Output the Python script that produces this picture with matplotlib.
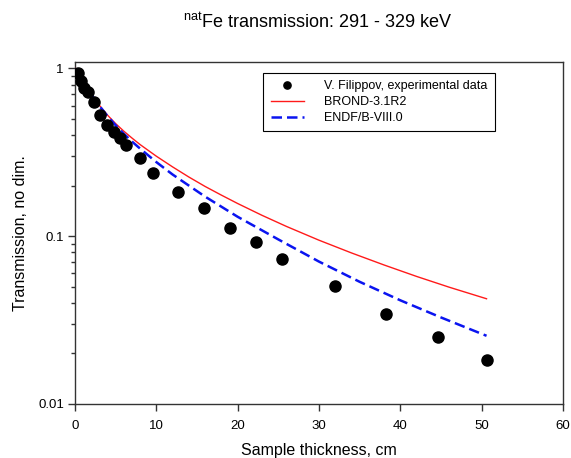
import matplotlib

matplotlib.use("Agg")

import matplotlib.pyplot as plt
from matplotlib.ticker import FixedLocator, LogLocator, NullFormatter

# --- data ------------------------------------------------------------------

# V. Filippov, experimental points (thickness in cm, transmission)
exp_x = [0.41, 0.70, 1.14, 1.56, 2.37, 3.07, 3.90, 4.76, 5.57, 6.31, 7.99,
         9.53, 12.70, 15.86, 19.06, 22.22, 25.49, 31.93, 38.20, 44.63, 50.62]
exp_t = [0.940, 0.842, 0.768, 0.721, 0.628, 0.527, 0.458, 0.417, 0.383,
         0.352, 0.291, 0.237, 0.1835, 0.1466, 0.1124, 0.0918, 0.0727,
         0.0503, 0.0343, 0.0252, 0.0182]

# BROND-3.1R2 calculation
brond_x = [0, 1, 2, 3, 4, 5, 6, 7, 8, 10, 12, 14, 16, 18, 20, 23, 26, 30,
           34, 38, 42, 46, 50.6]
brond_t = [1.0, 0.832, 0.701, 0.603, 0.527, 0.469, 0.423, 0.385, 0.352,
           0.300, 0.259, 0.2254, 0.198, 0.1758, 0.1567, 0.1332, 0.1144,
           0.0947, 0.0795, 0.0674, 0.0576, 0.0497, 0.0424]

# ENDF/B-VIII.0 calculation
endf_x = [0, 1, 2, 3, 4, 5, 6, 7, 8, 10, 12, 14, 16, 18, 20, 22.5, 25,
          27.5, 30, 35, 40, 45, 50.6]
endf_t = [1.0, 0.832, 0.700, 0.598, 0.520, 0.458, 0.408, 0.367, 0.333,
          0.2767, 0.2333, 0.2004, 0.1722, 0.150, 0.1306, 0.1118, 0.0957,
          0.0822, 0.0706, 0.0535, 0.0415, 0.0328, 0.0255]

x_ticks = [0, 10, 20, 30, 40, 50, 60]
y_ticks = [0.01, 0.1, 1]
y_tick_labels = ["0.01", "0.1", "1"]

# --- style -----------------------------------------------------------------

plt.rcParams.update({
    "font.family": ["Liberation Sans", "DejaVu Sans"],
    "mathtext.fontset": "custom",
    "mathtext.rm": "Liberation Sans",
    "mathtext.it": "Liberation Sans:italic",
    "axes.linewidth": 1.0,
    "axes.edgecolor": "#333333",
})

fig = plt.figure(figsize=(5.71, 4.58), dpi=100)
ax = fig.add_axes([75 / 571, 1 - 404 / 458, 488 / 571, 342 / 458])

ax.plot(exp_x, exp_t, "o", color="black", ms=8, mec="black",
        label="V. Filippov, experimental data", zorder=4)
ax.plot(brond_x, brond_t, "-", color="#ff1a1a", lw=1.0,
        label="BROND-3.1R2", zorder=3)
ax.plot(endf_x, endf_t, "--", color="#0a14f0", lw=1.8, dashes=(4.2, 2.0),
        label="ENDF/B-VIII.0", zorder=3)

ax.set_yscale("log")
ax.set_xlim(0, 60)
ax.set_ylim(0.01, 1.093)

ax.xaxis.set_major_locator(FixedLocator(x_ticks))
ax.yaxis.set_major_locator(FixedLocator(y_ticks))
ax.set_yticklabels(y_tick_labels)
ax.yaxis.set_minor_locator(LogLocator(base=10, subs=range(2, 10)))
ax.yaxis.set_minor_formatter(NullFormatter())
ax.tick_params(axis="both", which="major", direction="out", length=5,
               width=1, labelsize=9.5, color="#333333")
ax.tick_params(axis="x", which="major", pad=6.5)
ax.tick_params(axis="y", which="major", pad=3)
ax.tick_params(axis="y", which="minor", direction="out", length=3, width=1,
               color="#333333")

ax.set_xlabel("Sample thickness, cm", fontsize=11.5, labelpad=8)
ax.set_ylabel("Transmission, no dim.", fontsize=11.5, labelpad=7)

fig.text(0.557, 0.952, r"$^{\mathrm{nat}}$Fe transmission: 291 - 329 keV",
         ha="center", va="center", fontsize=13)

leg = ax.legend(loc="upper right", bbox_to_anchor=(0.861, 0.968),
                borderaxespad=0, fontsize=9, frameon=True, fancybox=False,
                framealpha=1, edgecolor="black", handlelength=2.7,
                markerscale=0.65, borderpad=0.6, labelspacing=0.3,
                handletextpad=1.6)
leg.get_frame().set_linewidth(0.8)

fig.savefig("out.png", dpi=100)
